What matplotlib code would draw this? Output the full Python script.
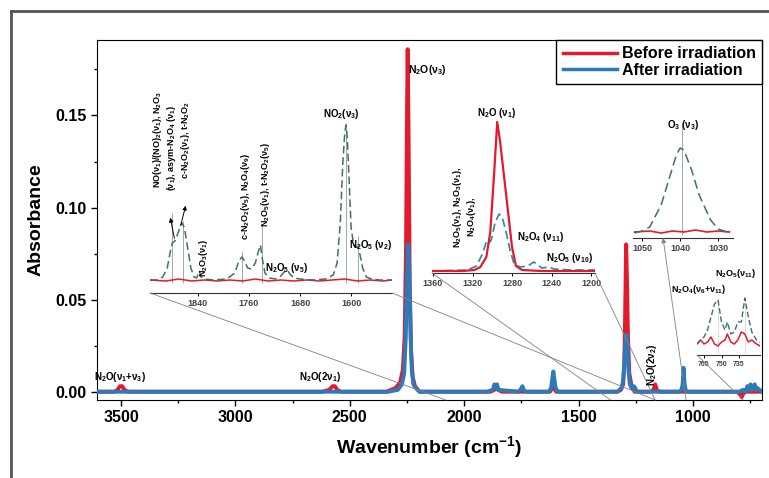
import numpy as np
import matplotlib.pyplot as plt
from matplotlib.lines import Line2D
from matplotlib.patches import ConnectionPatch

plt.rcParams['font.family'] = ['Liberation Sans', 'DejaVu Sans']
plt.rcParams['font.weight'] = 'bold'
plt.rcParams['mathtext.fontset'] = 'custom'
plt.rcParams['mathtext.rm'] = 'Liberation Sans:bold'
plt.rcParams['mathtext.it'] = 'Liberation Sans:bold:italic'
plt.rcParams['mathtext.bf'] = 'Liberation Sans:bold'
plt.rcParams['mathtext.default'] = 'rm'

W, H = 769, 478

# ---- main spectrum (wavenumber, absorbance) ----
before_wn = [3605, 3530, 3515, 3505, 3495, 3485, 3470, 2620, 2590, 2575, 2565, 2555, 2540,
             2340, 2300, 2280, 2268, 2260, 2254, 2250, 2247, 2243, 2238, 2232, 2225, 2215, 2195,
             1885, 1868, 1860, 1852, 1835, 1625, 1615, 1608, 1598,
             1330, 1315, 1305, 1300, 1296, 1292, 1288, 1284, 1278, 1268, 1255,
             1185, 1172, 1165, 1158, 1145, 810, 795, 787, 780, 770, 698]
before_abs = [0.000, 0.000, 0.001, 0.003, 0.003, 0.001, 0.000, 0.000, 0.001, 0.003, 0.003, 0.001, 0.000,
              0.000, 0.002, 0.005, 0.012, 0.030, 0.080, 0.150, 0.186, 0.140, 0.060, 0.022, 0.008, 0.003, 0.000,
              0.000, 0.001, 0.002, 0.001, 0.000, 0.000, 0.002, 0.002, 0.000,
              0.000, 0.001, 0.004, 0.015, 0.045, 0.080, 0.060, 0.030, 0.010, 0.003, 0.000,
              0.000, 0.001, 0.004, 0.001, 0.000, 0.000, -0.001, -0.003, -0.001, 0.000, 0.000]

after_wn = [3605, 3000, 2600, 2330, 2290, 2272, 2262, 2255, 2250, 2246, 2242, 2238, 2234, 2229, 2222, 2212, 2195,
            1900, 1875, 1868, 1862, 1856, 1850, 1760, 1750, 1745, 1740, 1730,
            1630, 1620, 1614, 1610, 1606, 1600, 1590,
            1330, 1312, 1305, 1300, 1295, 1290, 1286, 1282, 1276, 1268, 1258, 1252, 1245,
            1060, 1050, 1045, 1041, 1037, 1032, 1025,
            800, 780, 770, 762, 755, 748, 742, 736, 730, 724, 718, 698]
after_abs = [0.000, 0.000, 0.000, 0.000, 0.001, 0.004, 0.010, 0.030, 0.060, 0.080, 0.075, 0.055, 0.030, 0.012, 0.004, 0.002, 0.000,
             0.000, 0.001, 0.004, 0.003, 0.004, 0.001, 0.000, 0.002, 0.003, 0.001, 0.000,
             0.000, 0.002, 0.008, 0.011, 0.007, 0.002, 0.000,
             0.000, 0.002, 0.006, 0.015, 0.028, 0.031, 0.024, 0.012, 0.004, 0.002, 0.003, 0.002, 0.000,
             0.000, 0.001, 0.004, 0.013, 0.005, 0.001, 0.000,
             0.000, 0.001, 0.000, 0.003, 0.001, 0.004, 0.001, 0.003, 0.004, 0.001, 0.002, 0.000]

# ---- inset 1 (1915-1536 cm-1), arbitrary units ----
ins1_wn = [1915, 1905, 1895, 1888, 1883, 1880, 1876, 1870, 1865, 1861, 1856, 1851, 1846, 1842, 1838,
           1835, 1830, 1815, 1795, 1782, 1776, 1771, 1767, 1762, 1756, 1750, 1746, 1742, 1739, 1735,
           1728, 1718, 1710, 1705, 1700, 1696, 1690, 1680, 1660, 1640, 1628, 1622, 1617, 1613, 1610,
           1608, 1606, 1603, 1600, 1596, 1592, 1589, 1586, 1582, 1576, 1568, 1555, 1536]
ins1_after = [3, 3, 6, 15, 32, 40, 42, 52, 60, 55, 35, 15, 6, 5, 12,
              6, 4, 3, 4, 10, 22, 26, 22, 15, 14, 20, 30, 38, 24, 10,
              5, 4, 7, 11, 13, 9, 5, 4, 3, 4, 8, 20, 60, 120, 150,
              158, 145, 100, 55, 38, 36, 36, 28, 15, 6, 4, 3, 3]
ins1_bwn = [1915, 1890, 1870, 1850, 1830, 1810, 1790, 1770, 1750, 1730, 1710, 1690, 1670, 1650,
            1630, 1610, 1590, 1570, 1550, 1536]
ins1_before = [3, 2, 4, 2, 3, 2, 3, 2, 4, 2, 3, 2, 3, 2, 3, 4, 2, 3, 2, 3]
ins1_marks = [1880, 1863, 1771, 1739, 1608, 1589]
ins1_mark_top = [70, 62, 32, 58, 160, 47]

# ---- inset 2 (1361-1196 cm-1) ----
ins2_wn = [1361, 1330, 1318, 1312, 1306, 1302, 1298, 1295, 1292, 1288, 1284, 1280, 1276, 1270, 1250, 1196]
ins2_before = [1, 1, 2, 5, 15, 40, 100, 150, 130, 95, 60, 25, 6, 2, 1, 1]
ins2_awn = [1361, 1325, 1316, 1310, 1306, 1304, 1301, 1297, 1293, 1290, 1286, 1282, 1278, 1272,
            1264, 1258, 1255, 1250, 1242, 1238, 1220, 1196]
ins2_after = [1, 2, 6, 18, 30, 28, 32, 50, 58, 55, 40, 22, 8, 5, 6, 10, 8, 4, 5, 3, 2, 2]

# ---- inset 3 (O3 region) ----
ins3_wn = [1052, 1050, 1048, 1045, 1043, 1041, 1040, 1039, 1037, 1035, 1032, 1030, 1027]
ins3_after = [2, 4, 8, 30, 55, 80, 87, 85, 65, 40, 15, 6, 2]
ins3_bwn = [1052, 1048, 1045, 1042, 1039, 1036, 1033, 1030, 1027]
ins3_before = [3, 4, 2, 4, 3, 5, 3, 4, 3]

# ---- inset 4 (771-717 cm-1) ----
ins4_wn = [771, 768, 765, 762, 759, 756, 753, 750, 747, 745, 742, 739, 736, 733, 730, 727, 724, 720, 717]
ins4_after = [8, 12, 15, 22, 35, 48, 52, 30, 22, 30, 18, 20, 30, 30, 54, 35, 20, 12, 10]
ins4_before = [8, 12, 8, 10, 15, 8, 6, 10, 12, 18, 10, 8, 12, 20, 18, 10, 12, 8, 6]

red = '#e31a2c'
blue = '#2b7bba'
dash = '#3f7068'

fig = plt.figure(figsize=(7.69, 4.78), dpi=100)

def rect(x0, y0, x1, y1):
    return [x0 / W, 1 - y1 / H, (x1 - x0) / W, (y1 - y0) / H]

# outer frame
fig.add_artist(Line2D([11 / W, 1.0], [1 - 11 / H, 1 - 11 / H], color='#555555', lw=2))
fig.add_artist(Line2D([11 / W, 11 / W], [1 - 11 / H, 0], color='#555555', lw=2))

ax = fig.add_axes(rect(97, 40, 762, 400))
ax.plot(before_wn, before_abs, color=red, lw=2.8, label='Before irradiation', zorder=3)
ax.plot(after_wn, after_abs, color=blue, lw=2.8, label='After irradiation', zorder=4)
ax.set_xlim(3605, 698)
ax.set_ylim(-0.0045, 0.191)
ax.set_xticks([3500, 3000, 2500, 2000, 1500, 1000])
ax.set_xticks([3250, 2750, 2250, 1750, 1250, 750], minor=True)
ax.set_yticks([0.00, 0.05, 0.10, 0.15])
ax.set_yticks([0.025, 0.075, 0.125, 0.175], minor=True)
ax.set_yticklabels(['0.00', '0.05', '0.10', '0.15'])
ax.tick_params(labelsize=11.5, direction='out', length=4, width=1)
ax.tick_params(which='minor', direction='out', length=2.5, width=1)
ax.set_xlabel('Wavenumber (cm$^{-1}$)', fontsize=14, fontweight='bold', labelpad=6)
ax.set_ylabel('Absorbance', fontsize=14, fontweight='bold', labelpad=8)
leg = ax.legend(loc='upper right', fontsize=11.5, handlelength=3.4, handletextpad=0.3,
                borderaxespad=0, borderpad=0.4, labelspacing=0.1, fancybox=False, framealpha=1)
leg.get_frame().set_edgecolor('black')
leg.get_frame().set_linewidth(1)
for line in leg.get_lines():
    line.set_linewidth(2.5)

def text(x, y, s, **kw):
    kw.setdefault('fontsize', 7)
    fig.text(x / W, 1 - y / H, s, fontweight='bold', **kw)

text(408, 70, r'N$_2$O(ν$_3$)', fontsize=7.5, va='center')
text(120, 377, r'N$_2$O(ν$_1$+ν$_3$)', ha='center', va='center')
text(320, 377, r'N$_2$O(2ν$_1$)', ha='center', va='center')
text(652, 365, r'N$_2$O(2ν$_2$)', ha='center', va='center', rotation=90)

def make_inset(r, xlim, ylim, ticks):
    a = fig.add_axes(r)
    a.set_facecolor('none')
    a.set_xlim(*xlim)
    a.set_ylim(*ylim)
    for s in ['left', 'right', 'top']:
        a.spines[s].set_visible(False)
    a.spines['bottom'].set_linewidth(0.8)
    a.spines['bottom'].set_color('#333333')
    a.set_yticks([])
    a.set_xticks(ticks)
    a.tick_params(axis='x', labelsize=6.5, length=2.5, width=0.7, pad=1.5, labelcolor='#444444')
    return a

# inset 1
a1 = make_inset(rect(150, 95, 392, 293), (1915, 1536), (-10, 188), [1840, 1760, 1680, 1600])
a1.vlines(ins1_marks, 0, ins1_mark_top, color='#999999', lw=0.6, zorder=1)
a1.plot(ins1_bwn, ins1_before, color=red, lw=1.1, zorder=2)
a1.plot(ins1_wn, ins1_after, color=dash, lw=1.1, ls=(0, (5, 2.5)), zorder=3)
text(157, 140, r'NO(ν$_1$)/(NO)$_2$(ν$_1$), N$_2$O$_3$', rotation=90, ha='center', va='center', fontsize=6.5)
text(171, 148, r'(ν$_1$), asym-N$_2$O$_4$ (ν$_1$)', rotation=90, ha='center', va='center', fontsize=6.5)
text(185, 140, r'c-N$_2$O$_2$(ν$_1$), t-N$_2$O$_2$', rotation=90, ha='center', va='center', fontsize=6.5)
text(203, 258, r'N$_2$O$_3$(ν$_1$)', rotation=90, ha='center', va='center', fontsize=6.5)
text(246, 197, r'c-N$_2$O$_2$(ν$_5$), N$_2$O$_4$(ν$_9$)', rotation=90, ha='center', va='center', fontsize=6.5)
text(265, 185, r'N$_2$O$_5$(ν$_1$), t-N$_2$O$_2$(ν$_5$)', rotation=90, ha='center', va='center', fontsize=6.5)
text(287, 268, r'N$_2$O$_5$ (ν$_5$)', ha='center', va='center')
text(341, 114, r'NO$_2$(ν$_3$)', ha='center', va='center')
text(371, 245, r'N$_2$O$_5$ (ν$_2$)', ha='center', va='center')
a1.annotate('', xy=(1884, 68), xytext=(1876, 42),
            arrowprops=dict(arrowstyle='-|>', color='black', lw=0.7, mutation_scale=6))
a1.annotate('', xy=(1858, 80), xytext=(1868, 55),
            arrowprops=dict(arrowstyle='-|>', color='black', lw=0.7, mutation_scale=6))

# inset 2
a2 = make_inset(rect(432, 105, 595, 273), (1361, 1196), (-1, 167), [1360, 1320, 1280, 1240, 1200])
a2.plot(ins2_awn, ins2_after, color='#2a86a8', lw=1.2, ls=(0, (5, 2.5)), zorder=2)
a2.plot(ins2_wn, ins2_before, color=red, lw=1.6, zorder=3)
text(497, 113, r'N$_2$O (ν$_1$)', ha='center', va='center')
text(457, 208, r'N$_2$O$_5$(ν$_1$), N$_2$O$_3$(ν$_1$),', rotation=90, ha='center', va='center', fontsize=6.5)
text(472, 217, r'N$_2$O$_4$(ν$_1$),', rotation=90, ha='center', va='center', fontsize=6.5)
text(541, 237, r'N$_2$O$_4$ (ν$_{11}$)', ha='center', va='center')
text(570, 258, r'N$_2$O$_5$ (ν$_{10}$)', ha='center', va='center')

# inset 3
a3 = make_inset(rect(633, 115, 733, 238), (1052.4, 1026.1), (-3, 120), [1050, 1040, 1030])
a3.vlines([1039.5], 0, 112, color='#999999', lw=0.6, zorder=1)
a3.plot(ins3_bwn, ins3_before, color=red, lw=1.2, zorder=2)
a3.plot(ins3_wn, ins3_after, color=dash, lw=1.1, ls=(0, (6, 3)), zorder=3)
text(683, 125, r'O$_3$ (ν$_3$)', ha='center', va='center')

# inset 4
a4 = make_inset(rect(697, 270, 760, 355), (771, 717), (-3, 82), [765, 750, 735])
a4.tick_params(axis='x', labelsize=5)
a4.vlines([753, 730], 0, 55, color='#999999', lw=0.6, ls=':', zorder=1)
a4.plot(ins4_wn, ins4_before, color=red, lw=1.1, zorder=2)
a4.plot(ins4_wn, ins4_after, color=dash, lw=1.0, ls=(0, (4, 2)), zorder=3)
text(736, 273, r'N$_2$O$_5$(ν$_{11}$)', ha='center', va='center', fontsize=6.5)
text(699, 290, r'N$_2$O$_4$(ν$_6$+ν$_{11}$)', ha='center', va='center', fontsize=6.5)

# zoom connector lines (inset axis position -> main axis position)
links = [(a1, 1915, 2080, '-'), (a1, 1536, 1165, '-'), (a2, 1361, 1360, '-'), (a2, 1196, 1165, '-'),
         (a3, 1044.5, 1030, '<|-'), (a4, 771, 780, '-')]
for a, x_in, x_main, style in links:
    cp = ConnectionPatch(xyA=(x_in, a.get_ylim()[0]), coordsA=a.transData,
                         xyB=(x_main, ax.get_ylim()[0]), coordsB=ax.transData,
                         arrowstyle=style, mutation_scale=7, color='#808080', lw=0.6)
    cp.set_zorder(2)
    fig.add_artist(cp)

fig.savefig('out.png', dpi=100)
